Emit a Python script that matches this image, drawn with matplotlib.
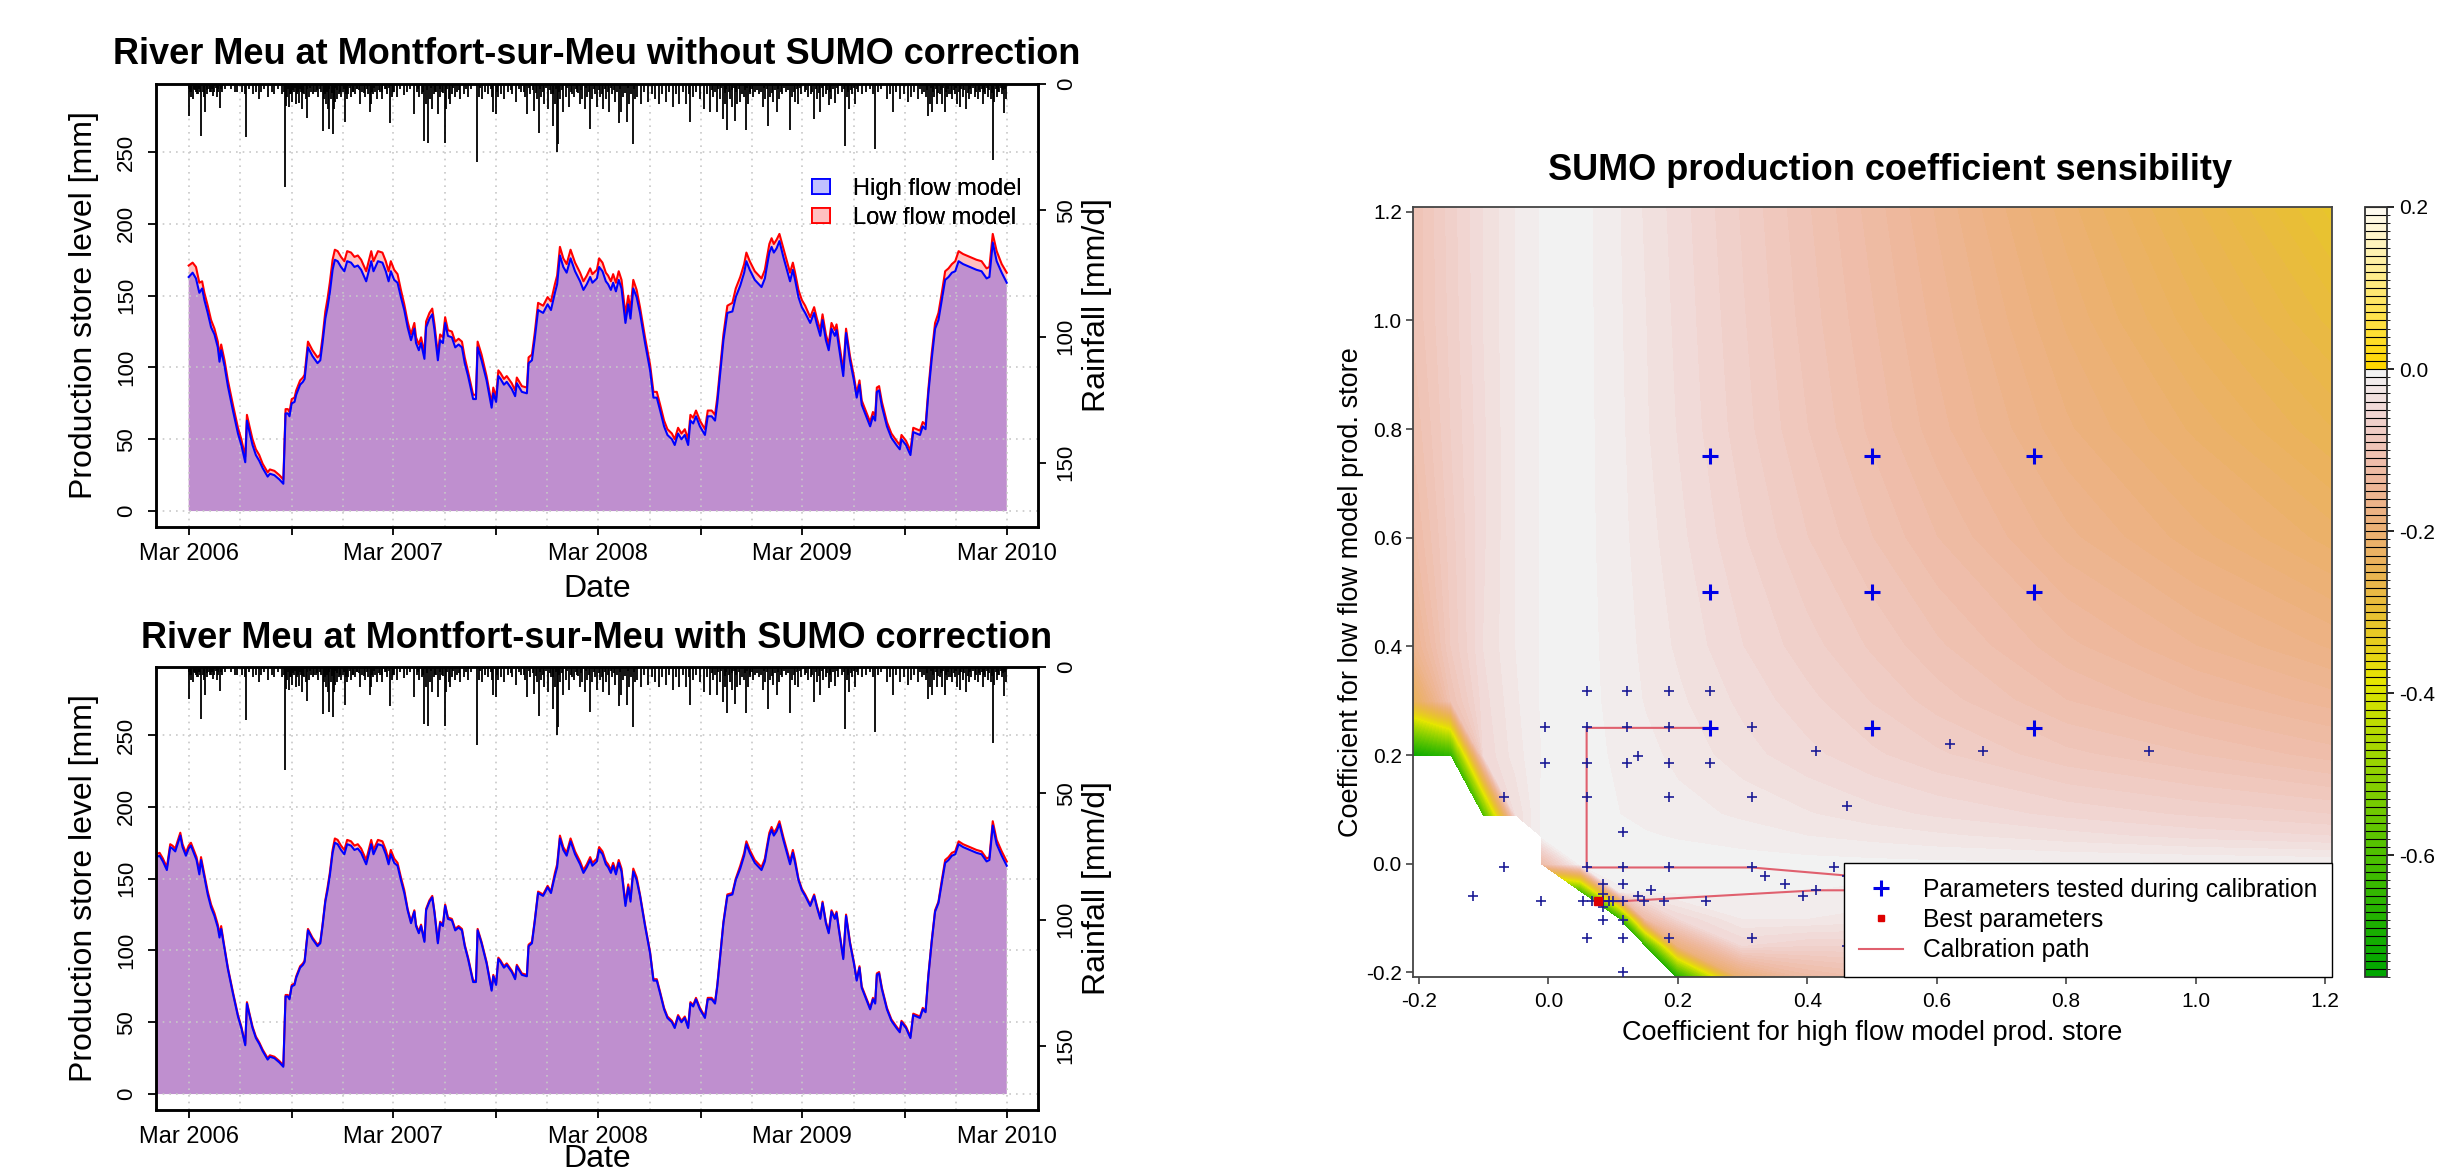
import numpy as np
import matplotlib
matplotlib.use('Agg')
import matplotlib.pyplot as plt
import matplotlib.dates as mdates
from matplotlib.colors import ListedColormap, BoundaryNorm, hsv_to_rgb, to_rgb
from matplotlib.patches import Patch
from matplotlib.lines import Line2D
import matplotlib.cm as mcm
import datetime as dt

plt.rcParams['font.family'] = ['Liberation Sans', 'DejaVu Sans']
plt.rcParams['axes.unicode_minus'] = False

# ---------------- time-series data (days since 1 Mar 2006) ----------------
top_days = [0, 7, 13, 19, 24, 28, 34, 40, 46, 52, 55, 58, 64, 70, 79, 88, 94, 101, 104, 108,
            114, 120, 126, 132, 141, 145, 153, 162, 169, 173, 177, 180, 184, 189, 192, 199, 204, 207, 213, 221,
            230, 235, 239, 244, 248, 252, 257, 261, 266, 272, 278, 283, 290, 296, 302, 308, 317, 326, 330, 338,
            346, 352, 357, 361, 367, 373, 379, 385, 391, 397, 403, 406, 411, 415, 421, 424, 430, 435, 439, 445,
            449, 454, 458, 463, 470, 476, 482, 488, 493, 499, 508, 513, 516, 523, 532, 541, 544, 549, 553, 557,
            563, 568, 577, 583, 586, 595, 604, 607, 613, 618, 624, 633, 641, 647, 654, 658, 663, 669, 675, 682,
            690, 699, 705, 711, 717, 721, 729, 733, 739, 745, 749, 754, 758, 763, 768, 773, 780, 785, 789, 794,
            800, 806, 815, 824, 830, 836, 842, 849, 855, 863, 868, 874, 880, 886, 892, 896, 901, 906, 913, 922,
            927, 934, 940, 944, 948, 955, 962, 971, 977, 985, 992, 996, 1002, 1011, 1023, 1029, 1032, 1037, 1041, 1045,
            1050, 1055, 1062, 1074, 1079, 1083, 1089, 1095, 1101, 1110, 1117, 1122, 1128, 1132, 1138, 1143, 1148, 1154, 1157, 1161,
            1169, 1174, 1181, 1188, 1193, 1198, 1202, 1208, 1217, 1222, 1226, 1229, 1233, 1238, 1247, 1255, 1264, 1270, 1273, 1281,
            1289, 1294, 1300, 1306, 1311, 1316, 1321, 1327, 1333, 1339, 1345, 1351, 1357, 1363, 1369, 1375, 1383, 1395, 1407, 1416,
            1425, 1430, 1436, 1443, 1452, 1461]

top_high = [163, 166, 162, 152, 155, 147, 138, 128, 123, 114, 104, 112, 101, 87, 70, 54, 46, 34, 63, 56,
            46, 39, 35, 30, 24, 26, 25, 22, 19, 68, 68, 66, 75, 76, 81, 88, 90, 92, 114, 108,
            103, 105, 117, 134, 142, 152, 168, 175, 174, 170, 167, 174, 173, 170, 171, 168, 160, 174, 167, 174,
            173, 167, 160, 167, 161, 159, 149, 140, 128, 119, 127, 117, 112, 117, 106, 128, 134, 137, 126, 105,
            119, 117, 131, 122, 121, 114, 116, 114, 103, 94, 78, 78, 114, 105, 91, 72, 82, 76, 94, 92,
            88, 90, 85, 80, 89, 83, 82, 103, 105, 120, 140, 138, 144, 140, 152, 158, 178, 170, 166, 176,
            167, 160, 154, 158, 163, 159, 162, 170, 167, 160, 158, 154, 159, 153, 161, 155, 131, 144, 134, 155,
            149, 138, 117, 98, 79, 79, 70, 59, 53, 50, 46, 54, 50, 53, 46, 63, 61, 66, 59, 53,
            66, 66, 63, 75, 91, 119, 138, 139, 149, 157, 166, 174, 168, 161, 156, 162, 169, 180, 184, 180,
            183, 188, 177, 160, 168, 161, 149, 142, 138, 131, 138, 130, 122, 133, 119, 112, 127, 122, 126, 115,
            94, 124, 105, 91, 79, 88, 74, 68, 59, 66, 63, 83, 84, 73, 59, 51, 46, 43, 50, 46,
            39, 55, 54, 53, 59, 57, 82, 106, 127, 133, 147, 161, 163, 166, 167, 174, 172, 170, 168, 167,
            162, 163, 187, 174, 166, 159]

top_low = [171, 173, 170, 159, 160, 152, 143, 133, 127, 118, 108, 116, 105, 91, 74, 58, 50, 38, 67, 60,
           50, 43, 39, 33, 27, 29, 28, 25, 22, 71, 71, 69, 78, 79, 84, 91, 93, 95, 118, 112,
           107, 109, 121, 139, 148, 159, 175, 182, 181, 177, 174, 181, 180, 177, 178, 175, 167, 181, 174, 181,
           180, 174, 167, 174, 168, 165, 154, 144, 132, 123, 131, 121, 116, 121, 110, 132, 138, 141, 130, 109,
           123, 121, 135, 126, 125, 118, 120, 118, 107, 97, 81, 81, 118, 109, 94, 75, 86, 79, 98, 96,
           92, 94, 89, 84, 93, 87, 86, 107, 109, 124, 145, 143, 149, 146, 158, 164, 184, 176, 172, 182,
           173, 166, 160, 164, 169, 165, 168, 176, 173, 166, 164, 160, 165, 159, 167, 161, 137, 150, 140, 161,
           154, 142, 121, 102, 83, 83, 74, 63, 57, 54, 50, 58, 54, 57, 50, 67, 65, 70, 63, 57,
           70, 70, 67, 79, 95, 123, 143, 145, 155, 163, 172, 180, 174, 167, 162, 168, 175, 186, 190, 186,
           189, 193, 183, 166, 173, 166, 154, 147, 143, 135, 142, 134, 126, 137, 123, 116, 131, 126, 130, 119,
           98, 127, 108, 94, 82, 91, 77, 71, 62, 69, 66, 86, 87, 76, 62, 54, 49, 46, 53, 49,
           42, 58, 57, 56, 62, 60, 85, 110, 131, 138, 152, 167, 169, 172, 174, 181, 179, 177, 175, 174,
           169, 170, 193, 181, 172, 166]

# bottom panel (with SUMO correction): early part differs, rest follows the same high-flow values
bot_pre_days = [-58, -52, -46, -39, -33, -29, -24, -20, -15, -11, -5, 0, 4, 8, 14, 19, 22, 28, 34, 40, 46, 52, 55, 58]
bot_pre_high = [165, 166, 162, 156, 172, 171, 169, 174, 180, 172, 166, 171, 173, 169, 163, 153, 163, 151, 139, 130, 124, 116, 109, 115]
bot_pre_low = [167, 168, 164, 158, 174, 173, 171, 176, 182, 174, 168, 173, 175, 171, 165, 155, 165, 153, 141, 132, 126, 118, 111, 117]
bot_low_rest = [102, 88, 71, 55, 47, 35, 64, 57,
                47, 40, 36, 31, 25, 27, 26, 23, 20, 69, 69, 67, 76, 77, 82, 89, 91, 93, 115, 109,
                104, 106, 118, 135, 144, 154, 170, 178, 177, 173, 170, 177, 176, 173, 174, 171, 163, 177, 170, 177,
                176, 170, 163, 170, 164, 161, 151, 142, 129, 120, 128, 118, 113, 118, 107, 129, 135, 138, 127, 106,
                120, 118, 132, 123, 122, 115, 117, 115, 104, 95, 79, 79, 115, 106, 92, 73, 83, 77, 95, 93,
                89, 91, 86, 81, 90, 84, 83, 104, 106, 121, 141, 139, 145, 141, 154, 160, 180, 172, 168, 178,
                169, 162, 156, 160, 165, 161, 164, 172, 169, 162, 160, 156, 161, 155, 163, 157, 133, 146, 136, 157,
                151, 139, 118, 99, 80, 80, 71, 60, 54, 51, 47, 55, 51, 54, 47, 64, 62, 67, 60, 54,
                67, 67, 64, 76, 92, 120, 139, 140, 150, 159, 168, 176, 170, 163, 158, 164, 171, 182, 186, 182,
                185, 190, 179, 162, 170, 163, 150, 143, 139, 132, 139, 131, 123, 134, 120, 113, 128, 123, 127, 116,
                95, 125, 106, 92, 80, 89, 75, 69, 60, 67, 64, 84, 85, 74, 60, 52, 47, 44, 51, 47,
                40, 56, 55, 54, 60, 58, 83, 107, 128, 134, 149, 163, 165, 168, 169, 176, 174, 172, 170, 169,
                164, 165, 190, 177, 169, 162]

# daily rainfall: larger events
rain_days = [0, 2, 4, 7, 10, 13, 16, 19, 22, 25,
             28, 30, 33, 36, 40, 43, 46, 50, 53, 56,
             60, 64, 75, 82, 87, 95, 100, 102, 108, 115,
             120, 125, 130, 135, 141, 148, 153, 160, 167, 172,
             174, 176, 179, 182, 185, 188, 191, 194, 197, 200,
             203, 206, 209, 212, 215, 219, 222, 227, 231, 236,
             239, 241, 245, 248, 251, 254, 257, 259, 262, 265,
             268, 272, 275, 279, 282, 285, 290, 294, 297, 301,
             306, 310, 315, 320, 323, 325, 329, 333, 337, 342,
             346, 350, 355, 360, 363, 367, 372, 378, 384, 390,
             395, 403, 408, 412, 417, 421, 424, 428, 431, 435,
             438, 442, 445, 449, 453, 457, 460, 464, 467, 470,
             475, 480, 485, 491, 499, 505, 514, 518, 523, 529,
             535, 541, 544, 548, 553, 557, 563, 570, 578, 585,
             593, 600, 605, 610, 617, 622, 626, 630, 635, 641,
             647, 651, 654, 657, 660, 664, 669, 673, 679, 684,
             688, 693, 698, 703, 707, 712, 717, 721, 725, 729,
             734, 740, 745, 751, 756, 761, 768, 772, 776, 782,
             786, 790, 793, 797, 801, 808, 813, 820, 828, 833,
             840, 846, 853, 858, 865, 871, 876, 882, 888, 893,
             896, 901, 906, 913, 921, 926, 931, 937, 943, 948,
             954, 958, 962, 967, 971, 976, 980, 985, 991, 995,
             999, 1003, 1008, 1012, 1018, 1025, 1030, 1035, 1039, 1043,
             1050, 1055, 1060, 1067, 1074, 1078, 1083, 1089, 1094, 1100,
             1106, 1111, 1117, 1122, 1128, 1133, 1138, 1143, 1148, 1154,
             1160, 1166, 1172, 1176, 1180, 1185, 1190, 1196, 1203, 1210,
             1216, 1222, 1226, 1231, 1237, 1247, 1253, 1258, 1264, 1271,
             1278, 1284, 1290, 1296, 1302, 1310, 1316, 1321, 1324, 1327,
             1331, 1336, 1341, 1346, 1350, 1354, 1358, 1364, 1368, 1372,
             1377, 1382, 1388, 1393, 1398, 1404, 1409, 1414, 1418, 1423,
             1428, 1432, 1436, 1439, 1443, 1448, 1452, 1456, 1460]
rain_mm = [12.5, 3, 5, 6, 2, 3, 4, 2, 20.7, 3,
           5, 11, 4, 2, 3, 4.6, 3, 5, 2, 9.6,
           3, 2, 2, 3, 3, 3, 4, 21, 2, 4,
           3, 6, 3, 2, 5, 3, 4, 2, 4, 40.8,
           8.6, 5, 9.2, 4, 7.2, 3, 8, 4, 7.5, 3,
           9.9, 4, 6, 13.6, 5, 3, 4, 3, 5, 3,
           18.7, 6, 8, 10, 17.8, 6, 19.8, 10, 7, 6,
           4, 5, 3, 15.2, 6, 4, 5, 3, 4, 2,
           8, 3, 5, 4, 11.2, 8, 4, 3, 6, 3,
           6, 2, 4, 15.5, 5, 3, 5, 2, 4.5, 3,
           2, 11.9, 3, 5, 4, 22.4, 8, 23.3, 6, 10,
           4, 3, 11.9, 5, 3, 23.5, 10, 6, 8, 4,
           5, 3, 6, 4, 5, 2, 31, 5, 6, 3,
           4, 5, 11.2, 12, 5, 4, 6, 3, 4, 7,
           3, 5, 11.9, 4, 10.5, 6, 19.4, 5, 8, 10,
           4, 16.5, 8, 27, 23.7, 6, 11, 5, 9, 4,
           5, 3, 8, 6, 10, 5, 18, 6, 4, 9,
           5, 10, 6, 11.2, 4, 7, 15.5, 11, 5, 15.2,
           8, 4, 23.7, 6, 5, 8, 3, 7, 4, 6,
           8, 4, 7, 3, 9, 4, 8, 3, 8, 4,
           15.2, 5, 3, 6, 10, 4, 11, 5, 11, 6,
           13.8, 8, 18.4, 6, 9, 14.5, 8, 7, 5, 18.4,
           8, 4, 5, 3, 4, 9, 6, 16.5, 5, 7,
           11, 6, 4, 3, 18.4, 5, 7, 8, 4, 3,
           5, 4, 13.8, 6, 11, 5, 4, 8.5, 6, 7.5,
           4, 3, 24.6, 5, 10, 4, 8, 3, 4, 3,
           2, 4, 25.7, 3, 2, 6, 4, 11, 3, 6,
           4, 7, 5, 3, 6, 4, 5, 12.5, 8, 11,
           5, 8, 4, 8, 11, 5, 4, 6, 4, 8,
           9, 5, 10, 6, 4, 5, 6, 3, 8, 4,
           5, 6, 30, 7, 5, 3, 4, 11.6, 6]

# daily rainfall: light days in the wet seasons
light_days = [1, 5, 9, 12, 15, 18, 21, 27, 32, 38, 42, 48, 52, 58,
              171, 178, 181, 187, 190, 196, 199, 205, 211, 217, 224, 229, 234, 243, 247,
              250, 256, 261, 264, 270, 277, 281, 288, 293, 300, 305, 313, 318, 327, 331,
              340, 345, 353, 358, 365,
              410, 419, 426, 433, 440, 448, 455, 462, 472, 483, 496, 520, 540, 551, 575,
              590, 598, 608, 615, 620, 628, 633, 639, 645, 650, 656, 662, 667, 676, 682,
              691, 696, 701, 710, 715, 724, 732, 738, 743, 748, 754, 759, 765, 770, 779, 784, 795,
              935, 940, 946, 951, 957, 960, 965, 970, 974, 978, 983, 988, 993, 997, 1002,
              1006, 1015, 1022, 1028, 1033, 1041, 1047, 1053, 1058, 1064, 1071, 1081, 1087, 1092, 1103,
              1114, 1120, 1126, 1131, 1140, 1146, 1151, 1157, 1170, 1178, 1183, 1188, 1193,
              1306, 1313, 1319, 1326, 1329, 1334, 1339, 1344, 1348, 1352, 1356, 1361, 1366, 1370, 1375,
              1380, 1385, 1391, 1396, 1401, 1406, 1411, 1416, 1421, 1426, 1430, 1434, 1441, 1446, 1450,
              1454, 1458]
light_mm = [2, 3, 1.5, 2.5, 4, 2, 3, 1.5, 2.5, 3, 2, 1.5, 3, 2,
            3, 2, 4, 2.5, 1.5, 3, 2, 3.5, 2, 1.5, 3, 2.5, 2, 4, 3,
            2, 3.5, 1.5, 2.5, 3, 2, 4, 1.5, 3, 2, 2.5, 3.5, 2, 3, 1.5,
            2.5, 3, 2, 1.5, 3,
            2, 3, 2.5, 1.5, 3, 2, 3.5, 2, 1.5, 2.5, 2, 1.5, 2, 3, 2.5,
            2, 3, 1.5, 2.5, 3.5, 2, 3, 1.5, 2.5, 4, 2, 3, 2.5, 1.5, 3,
            2, 3.5, 2.5, 1.5, 3, 2, 2.5, 4, 2, 3, 1.5, 2.5, 3, 2, 3.5, 1.5, 2,
            2.5, 3, 2, 1.5, 3.5, 2, 3, 2.5, 1.5, 3, 2, 4, 2.5, 1.5, 3,
            2, 2.5, 3, 1.5, 2, 3.5, 2.5, 2, 3, 1.5, 2.5, 3, 2, 1.5, 2.5,
            3, 2, 3.5, 1.5, 2.5, 3, 2, 1.5, 2, 3, 2.5, 1.5, 2,
            2, 3, 2.5, 1.5, 3, 2, 3.5, 2.5, 1.5, 3, 2, 4, 2.5, 1.5, 3,
            2, 2.5, 3.5, 2, 1.5, 3, 2.5, 2, 3, 1.5, 2.5, 3.5, 2, 3, 1.5,
            2.5, 2]

series_labels = ['High flow model', 'Low flow model']
ts_titles = ['River Meu at Montfort-sur-Meu without SUMO correction',
             'River Meu at Montfort-sur-Meu with SUMO correction']
store_ticks = [0, 50, 100, 150, 200, 250]
rain_ticks = [0, 50, 100, 150]

# ---------------- sensitivity surface data ----------------
grid_x = [-0.21, -0.15, -0.10, -0.05, -0.01, 0.05, 0.11, 0.15, 0.20, 0.30, 0.40, 0.50, 0.60, 0.80, 1.00, 1.21]
grid_y = [-0.21, -0.15, -0.10, -0.05, 0.00, 0.05, 0.09, 0.20, 0.30, 0.40, 0.60, 0.80, 1.00, 1.21]
nan = float('nan')
grid_z = [
    [nan, nan, nan, nan, nan, nan, nan, nan, -0.70, -0.20, -0.13, -0.11, -0.10, -0.10, -0.10, -0.10],
    [nan, nan, nan, nan, nan, nan, nan, -0.65, -0.18, -0.05, -0.06, -0.06, -0.06, -0.06, -0.06, -0.06],
    [nan, nan, nan, nan, nan, nan, -0.65, -0.12, -0.05, -0.02, -0.02, -0.025, -0.03, -0.03, -0.03, -0.03],
    [nan, nan, nan, nan, nan, -0.60, -0.012, -0.008, -0.007, -0.008, -0.010, -0.012, -0.014, -0.016, -0.018, -0.020],
    [nan, nan, nan, nan, -0.12, -0.006, -0.004, -0.004, -0.004, -0.005, -0.006, -0.007, -0.008, -0.009, -0.010, -0.012],
    [nan, nan, nan, nan, -0.008, -0.005, -0.007, -0.009, -0.011, -0.015, -0.020, -0.024, -0.028, -0.036, -0.044, -0.050],
    [nan, nan, -0.60, -0.040, -0.008, -0.005, -0.010, -0.013, -0.016, -0.022, -0.029, -0.036, -0.042, -0.053, -0.062, -0.070],
    [-0.72, -0.65, -0.050, -0.025, -0.010, -0.006, -0.012, -0.017, -0.023, -0.036, -0.047, -0.058, -0.068, -0.087, -0.100, -0.115],
    [-0.25, -0.10, -0.045, -0.022, -0.009, -0.006, -0.014, -0.021, -0.028, -0.043, -0.057, -0.071, -0.085, -0.110, -0.128, -0.145],
    [-0.16, -0.08, -0.040, -0.020, -0.009, -0.006, -0.015, -0.023, -0.032, -0.050, -0.066, -0.082, -0.098, -0.127, -0.150, -0.172],
    [-0.125, -0.075, -0.042, -0.020, -0.009, -0.006, -0.017, -0.026, -0.037, -0.059, -0.080, -0.100, -0.120, -0.157, -0.186, -0.215],
    [-0.11, -0.070, -0.042, -0.020, -0.009, -0.006, -0.018, -0.029, -0.041, -0.066, -0.090, -0.113, -0.136, -0.178, -0.213, -0.250],
    [-0.10, -0.067, -0.040, -0.020, -0.009, -0.006, -0.019, -0.030, -0.043, -0.069, -0.095, -0.119, -0.144, -0.192, -0.237, -0.284],
    [-0.10, -0.065, -0.040, -0.020, -0.009, -0.006, -0.020, -0.032, -0.045, -0.072, -0.099, -0.125, -0.152, -0.206, -0.259, -0.315],
]

tested_x = [0.059, 0.122, 0.186, 0.250,
            -0.005, 0.059, 0.122, 0.186, 0.314,
            0.621, 0.671, 0.928, 0.414,
            -0.005, 0.059, 0.122, 0.186, 0.250, 0.138,
            -0.069, 0.059, 0.186, 0.314, 0.462, 0.115,
            -0.069, 0.059, 0.115, 0.186, 0.314, 0.441,
            0.335, 0.462, 0.365, 0.084, 0.115, 0.159, 0.414, 0.138, 0.393, -0.116,
            -0.012, 0.053, 0.068, 0.085, 0.094, 0.100, 0.115, 0.147, 0.179, 0.243,
            0.084, 0.084, 0.084, 0.115,
            0.059, 0.115, 0.186, 0.314, 0.462, 0.115]
tested_y = [0.318, 0.318, 0.318, 0.318,
            0.251, 0.251, 0.251, 0.251, 0.251,
            0.220, 0.208, 0.208, 0.208,
            0.186, 0.186, 0.186, 0.186, 0.186, 0.199,
            0.123, 0.123, 0.123, 0.123, 0.106, 0.059,
            -0.007, -0.007, -0.007, -0.007, -0.007, -0.007,
            -0.022, -0.022, -0.037, -0.037, -0.037, -0.049, -0.049, -0.060, -0.060, -0.060,
            -0.069, -0.069, -0.069, -0.069, -0.069, -0.069, -0.069, -0.069, -0.069, -0.069,
            -0.055, -0.080, -0.103, -0.103,
            -0.136, -0.136, -0.136, -0.136, -0.151, -0.199]
coarse_x = [0.25, 0.50, 0.75, 0.25, 0.50, 0.75, 0.25, 0.50, 0.75]
coarse_y = [0.75, 0.75, 0.75, 0.50, 0.50, 0.50, 0.25, 0.25, 0.25]
path_x = [0.25, 0.059, 0.059, 0.314, 0.462, 0.56, 0.52, 0.47, 0.414, 0.115, 0.076]
path_y = [0.25, 0.25, -0.007, -0.007, -0.022, -0.03, -0.045, -0.049, -0.049, -0.069, -0.069]
best_x = [0.076]
best_y = [-0.069]
cbar_ticks = [-0.6, -0.4, -0.2, 0.0, 0.2]
legend_labels = ['Parameters tested during calibration', 'Best parameters', 'Calbration path']

# ---------------- figure ----------------
W, H = 2445, 1175
fig = plt.figure(figsize=(W / 100, H / 100), dpi=100)


def add_ax(l, t, r, b):
    return fig.add_axes([l / W, 1 - b / H, (r - l) / W, (b - t) / H])


base = dt.datetime(2006, 3, 1)


def dnum(days):
    return mdates.date2num([base + dt.timedelta(days=float(d)) for d in days])


PT = 72 / 100.0  # px -> pt


def ts_panel(top, bottom, title, days, high, low, date_y):
    ax = add_ax(156, top, 1038, bottom)
    d = dnum(days)
    ax.fill_between(d, 0, low, facecolor=(1, 0, 0, 0.25), lw=0, zorder=1)
    ax.fill_between(d, 0, high, facecolor=(0, 0, 1, 0.25), lw=0, zorder=1.05)
    ax.plot(d, low, color='red', lw=1.5, zorder=2)
    ax.plot(d, high, color='blue', lw=1.5, zorder=2.1)
    x0, x1 = dnum([-58.4, 1516.8])
    ax.set_xlim(x0, x1)
    ax.set_ylim(-11.1, 297.4)
    grid_dates = [dt.datetime(y, m, 1) for y in range(2006, 2011) for m in (3, 6, 9, 12)
                  if dt.datetime(y, m, 1) <= dt.datetime(2010, 3, 1)]
    for g in mdates.date2num(grid_dates):
        ax.axvline(g, color='#c8c8c8', lw=1.2, dashes=(1, 3), zorder=1.5)
    for v in store_ticks:
        ax.axhline(v, color='#c8c8c8', lw=1.2, dashes=(1, 3), zorder=1.5)
    tick_dates = [dt.datetime(y, m, 1) for y in range(2006, 2011) for m in (3, 9)
                  if dt.datetime(y, m, 1) <= dt.datetime(2010, 3, 1)]
    ax.set_xticks(mdates.date2num(tick_dates))
    ax.set_xticklabels([t.strftime('Mar %Y') if t.month == 3 else '' for t in tick_dates])
    ax.set_yticks(store_ticks)
    ax.set_yticklabels([str(v) for v in store_ticks], rotation=90, va='center')
    ax.tick_params(axis='x', length=8 * PT, width=1.3, labelsize=17, pad=6)
    ax.tick_params(axis='y', length=8 * PT, width=1.3, labelsize=16, pad=8)
    for s in ax.spines.values():
        s.set_linewidth(1.8)
    # rainfall
    ax2 = ax.twinx()
    ax2.vlines(dnum(rain_days), 0, rain_mm, color='black', lw=1.3)
    ax2.vlines(dnum(light_days), 0, light_mm, color='black', lw=1.3)
    ax2.set_ylim(175.4, 0)
    ax2.set_yticks(rain_ticks)
    ax2.set_yticklabels([str(v) for v in rain_ticks], rotation=90, va='center')
    ax2.tick_params(axis='y', length=8 * PT, width=1.3, labelsize=16, pad=7)
    for s in ax2.spines.values():
        s.set_linewidth(1.8)
    handles = [Patch(facecolor='#C0C0FF', edgecolor='blue', lw=1.3),
               Patch(facecolor='#FFC0C0', edgecolor='red', lw=1.3)]
    ax2.legend(handles, series_labels, loc='upper right',
               bbox_to_anchor=((1022 - 156) / 882, 1 - (178 - top) / (bottom - top)),
               frameon=False, fontsize=17, borderpad=0, borderaxespad=0,
               handlelength=0.75, handleheight=0.6, handletextpad=1.0, labelspacing=0.3)
    cy = (top + bottom) / 2
    fig.text(597 / W, 1 - (top - 29) / H, title, ha='center', va='center', fontsize=26, fontweight='bold')
    fig.text(597 / W, 1 - date_y / H, 'Date', ha='center', va='center', fontsize=23)
    fig.text(84 / W, 1 - cy / H, 'Production store level [mm]', ha='center', va='center',
             rotation=90, fontsize=23)
    fig.text(1097 / W, 1 - cy / H, 'Rainfall [mm/d]', ha='center', va='center',
             rotation=90, fontsize=23)
    return ax


ts_panel(84, 527, ts_titles[0], top_days, top_high, top_low, 589)
i0 = top_days.index(64)
bot_days = bot_pre_days + top_days[i0:]
bot_high = bot_pre_high + top_high[i0:]
bot_low = bot_pre_low + bot_low_rest
ts_panel(667, 1110, ts_titles[1], bot_days, bot_high, bot_low, 1159)

# ---------------- sensitivity panel ----------------


def terrain_colors(n):
    k = n // 2
    h = np.r_[np.linspace(4 / 12, 2 / 12, k), np.linspace(2 / 12, 0, n - k + 1)[1:]]
    s = np.r_[np.linspace(1, 1, k), np.linspace(1, 0, n - k + 1)[1:]]
    v = np.r_[np.linspace(0.65, 0.9, k), np.linspace(0.9, 0.95, n - k + 1)[1:]]
    return hsv_to_rgb(np.stack([h, s, v], axis=1))


levels = np.linspace(-0.75, 0.2, 96)
neg = terrain_colors(75)
g0, g1 = np.array(to_rgb('#FFD700')), np.array(to_rgb('#FFFBF0'))
pos = np.array([g0 + (g1 - g0) * t for t in np.linspace(0, 1, 20)])
cmap = ListedColormap(np.vstack([neg, pos]))
norm = BoundaryNorm(levels, 95)

axr = add_ax(1413, 207, 2332, 977)
Z = np.ma.masked_invalid(np.array(grid_z))
cs = axr.contourf(grid_x, grid_y, Z, levels=levels, cmap=cmap, norm=norm, corner_mask=True, zorder=0)
cs.set_edgecolor('face')
cs.set_linewidth(0.5)
axr.set_xlim(-0.2093, 1.2108)
axr.set_ylim(-0.2086, 1.2088)
axr.plot(path_x, path_y, color='#e0606e', lw=1.5, zorder=3)
axr.plot(tested_x, tested_y, ls='none', marker='+', color='#1c1c96', ms=7, mew=1.2, zorder=4)
axr.plot(coarse_x, coarse_y, ls='none', marker='+', color='#0000e6', ms=12, mew=2.2, zorder=4)
axr.plot(best_x, best_y, ls='none', marker='s', color='#dd0000', ms=6, zorder=5)
ticks = [-0.2, 0.0, 0.2, 0.4, 0.6, 0.8, 1.0, 1.2]
axr.set_xticks(ticks)
axr.set_xticklabels(['%.1f' % t for t in ticks])
axr.set_yticks(ticks)
axr.set_yticklabels(['%.1f' % t for t in ticks])
axr.tick_params(axis='both', length=7 * PT, width=1.2, color='#444444', labelsize=15)
axr.tick_params(axis='x', pad=6)
axr.tick_params(axis='y', pad=3)
for s in axr.spines.values():
    s.set_linewidth(1.3)
    s.set_color('#444444')
lh = [Line2D([], [], ls='none', marker='+', color='#0000e6', ms=12, mew=2.2),
      Line2D([], [], ls='none', marker='s', color='#dd0000', ms=5),
      Line2D([], [], color='#e0606e', lw=1.5)]
leg = axr.legend(lh, legend_labels,
                 loc='lower right', bbox_to_anchor=(1, 0), borderaxespad=0, fontsize=17.7,
                 fancybox=False, framealpha=1, edgecolor='black', borderpad=0.6,
                 handlelength=1.8, handletextpad=0.8, labelspacing=0.25)
leg.get_frame().set_linewidth(1.0)
leg.set_zorder(10)

fig.text(1890 / W, 1 - 170 / H, 'SUMO production coefficient sensibility', ha='center', va='center',
         fontsize=26, fontweight='bold')
fig.text(1872 / W, 1 - 1033 / H, 'Coefficient for high flow model prod. store', ha='center', va='center',
         fontsize=19.5)
fig.text(1351 / W, 1 - 592 / H, 'Coefficient for low flow model prod. store', ha='center', va='center',
         rotation=90, fontsize=19.5)

cax = add_ax(2365, 207, 2387, 977)
sm = mcm.ScalarMappable(norm=norm, cmap=cmap)
cb = fig.colorbar(sm, cax=cax, drawedges=True, ticks=cbar_ticks)
cb.dividers.set_color('black')
cb.dividers.set_linewidth(0.8)
cb.outline.set_linewidth(1.3)
cb.outline.set_edgecolor('#333333')
cax.set_yticklabels(['%.1f' % t for t in cbar_ticks])
cax.tick_params(length=7 * PT, width=1.2, labelsize=15, pad=4)

fig.savefig('out.png', dpi=100)
